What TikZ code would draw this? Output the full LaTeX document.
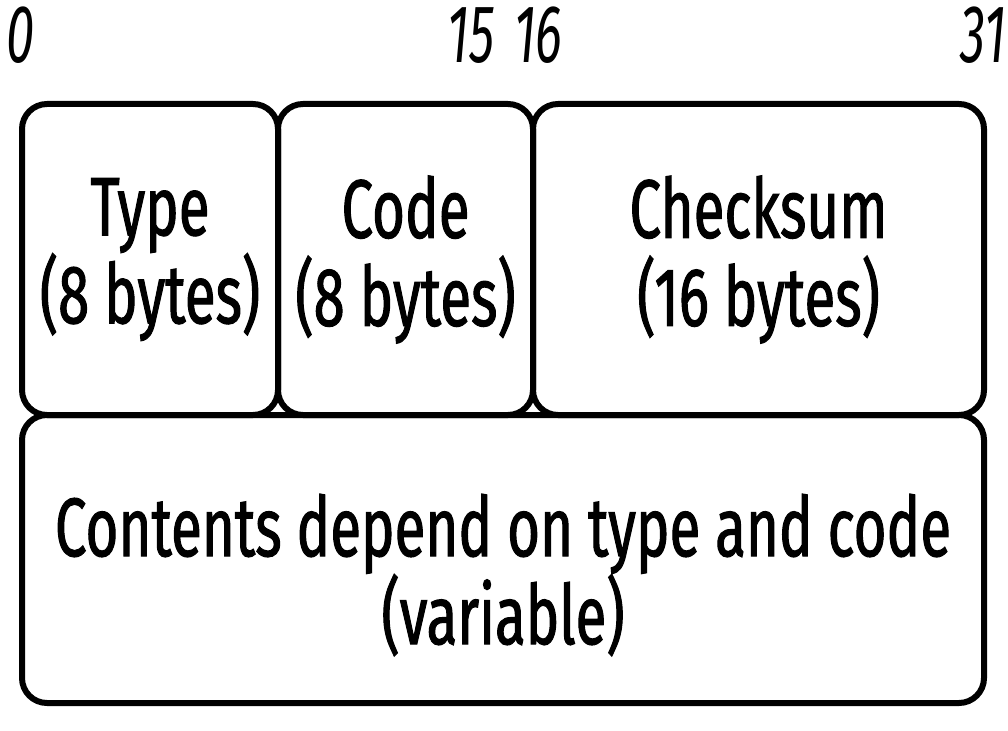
\documentclass[tikz,border=0pt]{standalone}
\usepackage{fontspec}
\setmainfont{Fira Sans}[FakeStretch=0.68,FakeBold=1.2]
\newfontfamily\bitfont{Fira Sans}[FakeStretch=0.62]
\begin{document}
\begin{tikzpicture}[x=1pt,y=-1pt,
	field/.style={draw,line width=6pt,rounded corners=25pt,align=center,inner sep=0pt,
		font=\fontsize{83}{88}\selectfont},
	bitno/.style={inner sep=0pt,font=\fontsize{82}{82}\bitfont\itshape}]
	\useasboundingbox (0,0) rectangle (1008,730);
	% header fields
	\node[field,minimum width=256pt,minimum height=311pt] (type) at (150,259.5) {Type\\(8 bytes)};
	\node[field,minimum width=255pt,minimum height=311pt] (code) at (405.5,259.5) {Code\\(8 bytes)};
	\node[field,minimum width=451pt,minimum height=311pt] (checksum) at (758.5,259.5) {Checksum\\(16 bytes)};
	\node[field,minimum width=962pt,minimum height=288pt] (contents) at (503,559) {};
	\node[field,draw=none] (contentstext) at (503,575) {Contents depend on type and code\\(variable)};
	% bit positions
	\node[bitno,anchor=base west] (b0) at (6,63) {0};
	\node[bitno,anchor=base east] (b15) at (495,63) {15};
	\node[bitno,anchor=base west] (b16) at (514,63) {16};
	\node[bitno,anchor=base east] (b31) at (1006,63) {31};
\end{tikzpicture}
\end{document}
